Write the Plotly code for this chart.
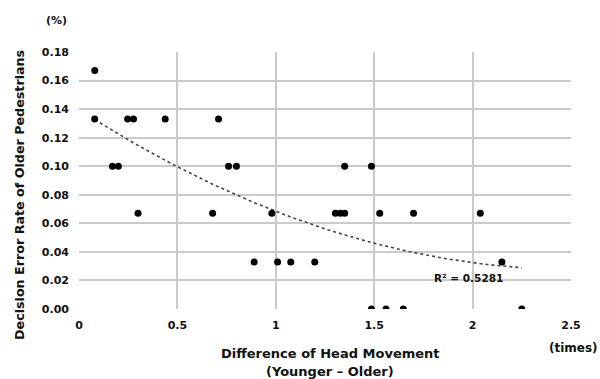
import numpy as np
import plotly.graph_objects as go

head_diff = [0.08, 0.08, 0.17, 0.20, 0.247, 0.277, 0.438, 0.709, 0.76, 0.80, 1.35, 1.486,
             0.30, 0.679, 0.98, 1.303, 1.328, 1.35, 1.528, 1.70, 2.039,
             0.89, 1.009, 1.076, 1.198, 2.149,
             1.486, 1.56, 1.648, 2.25]
error_rate = [0.167, 0.133, 0.100, 0.100, 0.133, 0.133, 0.133, 0.133, 0.100, 0.100, 0.100, 0.100,
              0.067, 0.067, 0.067, 0.067, 0.067, 0.067, 0.067, 0.067, 0.067,
              0.033, 0.033, 0.033, 0.033, 0.033,
              0.0, 0.0, 0.0, 0.0]
x_ticks = [0, 0.5, 1, 1.5, 2, 2.5]
x_tick_text = ["0", "0.5", "1", "1.5", "2", "2.5"]
y_ticks = [0, 0.02, 0.04, 0.06, 0.08, 0.10, 0.12, 0.14, 0.16, 0.18]
r2_label = "R² = 0.5281"

xa = np.array(head_diff)
ya = np.array(error_rate)
coef = np.polyfit(xa, ya, 2)
xf = np.linspace(xa.min(), xa.max(), 100)
yf = np.polyval(coef, xf)

FONT = "DejaVu Sans"
TXT = "#111111"
GRID = "#cacaca"

fig = go.Figure()
fig.add_trace(go.Scatter(x=xf, y=yf, mode="lines",
                         line=dict(color="#444444", width=1.6, dash="dot"),
                         hoverinfo="skip", showlegend=False))
fig.add_trace(go.Scatter(x=head_diff, y=error_rate, mode="markers",
                         marker=dict(color="#000000", size=7),
                         showlegend=False))

fig.update_layout(
    width=600, height=379,
    margin=dict(l=79, r=29, t=52, b=70),
    paper_bgcolor="white", plot_bgcolor="white",
    font=dict(family=FONT, color=TXT, size=11),
    xaxis=dict(range=[0, 2.5], tickvals=x_ticks, ticktext=x_tick_text,
               showgrid=True, gridcolor=GRID, gridwidth=1.6,
               zeroline=False, showline=False, ticks="",
               ticklabelstandoff=8,
               tickfont=dict(family=FONT, size=11, color=TXT, weight="bold")),
    yaxis=dict(range=[0, 0.18], tickvals=y_ticks, tickformat=".2f",
               showgrid=True, gridcolor=GRID, gridwidth=1.6,
               zeroline=False, showline=False, ticks="",
               ticklabelstandoff=9,
               tickfont=dict(family=FONT, size=11, color=TXT, weight="bold")),
    showlegend=False,
)

bold = lambda s: f"<b>{s}</b>"
anns = [
    dict(text=bold("(%)"), x=56, y=359, size=11),
    dict(text=bold("Decision Error Rate of Older Pedestrians"), x=19, y=184, size=12.7, angle=-90),
    dict(text=bold("Difference of Head Movement"), x=330, y=26, size=13),
    dict(text=bold("(Younger – Older)"), x=330, y=8, size=13),
    dict(text=bold("(times)"), x=573, y=31, size=12),
    dict(text=bold(r2_label), x=468, y=101, size=10.5),
]
for a in anns:
    fig.add_annotation(text=a["text"], xref="paper", yref="paper",
                       x=(a["x"] - 79) / (600 - 79 - 29),
                       y=(a["y"] - 70) / (379 - 52 - 70),
                       showarrow=False, textangle=a.get("angle", 0),
                       font=dict(family=FONT, size=a["size"], color=TXT),
                       xanchor="center", yanchor="middle")

fig.write_html("out.html")
